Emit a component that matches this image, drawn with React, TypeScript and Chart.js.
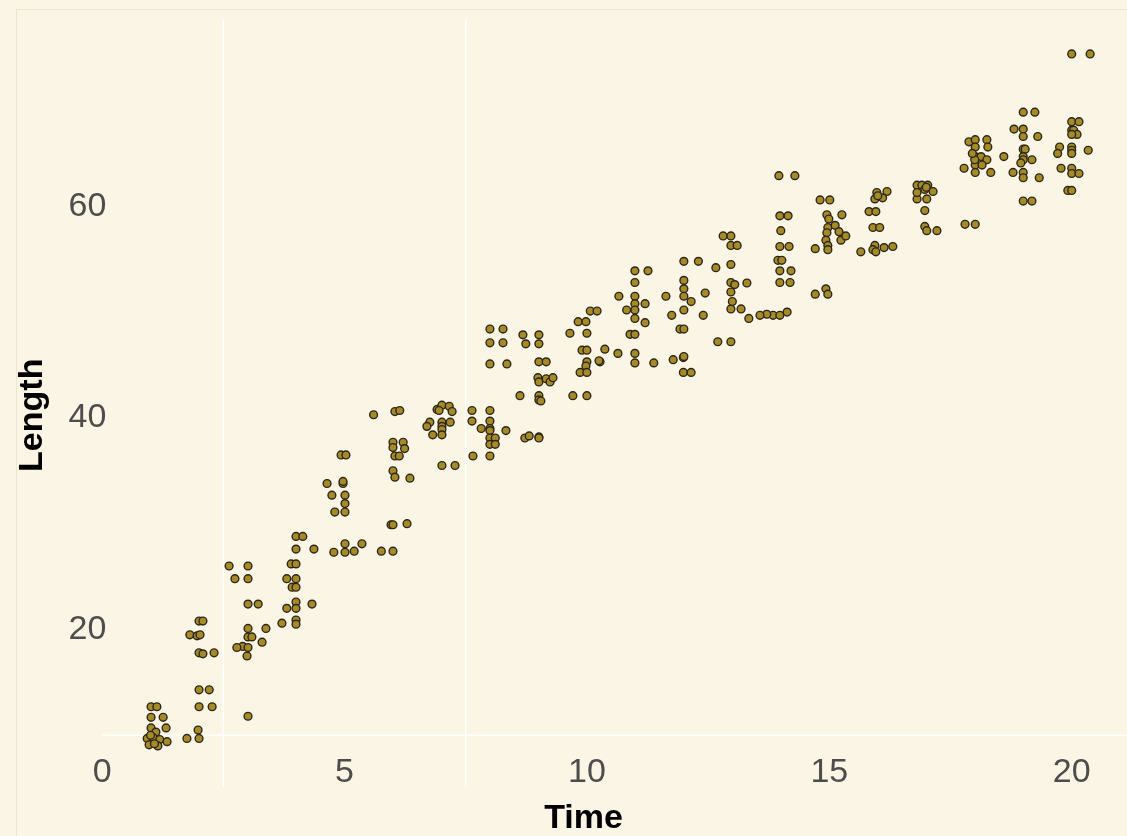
import { useEffect, useRef } from "react";
import { Chart, registerables } from "chart.js";

Chart.register(...registerables);

// Axis ticks and visible ranges
const X_TICKS = [0, 5, 10, 15, 20];
const Y_TICKS = [20, 40, 60];
const X_RANGE = [-0.868, 20.728];
const Y_RANGE = [5.113, 75.39];

// Minor guide lines drawn in white over the panel
const GRID_X = [2.5, 7.5];
const GRID_Y = [10];
const GRID_TOP = 77.6;

// Jittered time per observation, grouped by measurement time 1..20
const timeByGroup: number[][] = [
  [1.01, 1.13, 1.01, 1.26, 1.01, 1.11, 1.32, 0.93, 1.05, 1.19, 1.34, 0.97, 1.15, 1.0, 1.08],
  [1.81, 1.96, 2.02, 2.0, 2.08, 2.0, 2.08, 2.31, 2.0, 2.21, 2.0, 2.27, 1.75, 1.98, 2.0],
  [2.62, 3.01, 2.74, 3.01, 3.01, 3.22, 3.01, 3.38, 3.01, 3.09, 3.3, 2.9, 2.78, 3.01, 2.99, 3.01],
  [3.71, 3.81, 4.0, 4.0, 4.33, 4.0, 4.0, 3.9, 4.0, 3.81, 4.0, 3.92, 4.0, 4.0, 4.14, 4.0, 4.37],
  [4.64, 4.97, 4.97, 4.74, 5.01, 5.01, 4.8, 5.01, 5.01, 4.78, 5.01, 5.2, 5.36, 4.93, 5.03],
  [5.6, 6.04, 6.14, 6.0, 6.21, 6.0, 6.24, 6.04, 6.13, 6.0, 6.04, 6.35, 5.96, 6.0, 6.29, 5.76, 6.0],
  [6.91, 7.01, 7.16, 7.22, 6.76, 7.01, 7.18, 6.7, 7.01, 7.01, 6.82, 7.01, 7.01, 7.28, 6.95],
  [7.63, 8.0, 7.63, 8.0, 7.82, 8.0, 8.0, 8.33, 8.0, 8.11, 8.0, 8.11, 7.65, 8.0, 8.0, 8.27, 8.0, 8.27, 8.0, 8.35],
  [8.68, 9.01, 8.74, 9.01, 9.01, 9.16, 8.99, 9.01, 9.16, 9.24, 9.3, 8.62, 9.01, 9.01, 9.05, 8.72, 8.81, 9.01, 9.01],
  [9.65, 10.0, 9.9, 10.0, 10.37, 10.27, 10.25, 10.0, 9.98, 9.86, 10.0, 9.71, 10.0, 10.64, 9.82, 9.98, 10.07, 10.21],
  [10.99, 10.99, 11.38, 10.89, 10.99, 10.99, 11.26, 10.99, 10.66, 10.99, 10.99, 11.2, 10.82, 10.99, 10.99, 11.2],
  [12.0, 12.3, 12.0, 12.0, 11.63, 12.0, 12.15, 12.0, 11.75, 12.4, 11.92, 12.0, 11.78, 11.99, 12.0, 11.99, 12.15],
  [12.66, 12.81, 12.97, 12.97, 13.1, 12.97, 12.97, 13.3, 12.97, 12.97, 13.18, 12.7, 12.97, 13.34, 12.44, 13.0, 13.05],
  [13.96, 14.29, 13.98, 14.15, 14.0, 13.98, 14.17, 13.94, 14.02, 13.98, 14.21, 13.98, 14.19, 13.84, 13.98, 14.13, 13.71, 13.57],
  [14.81, 15.01, 14.95, 15.26, 14.99, 14.97, 15.12, 14.95, 15.2, 14.93, 14.97, 15.24, 14.97, 14.71, 14.71, 14.93, 14.97, 15.34],
  [15.98, 16.19, 15.94, 15.82, 15.96, 15.9, 16.04, 15.94, 15.9, 15.96, 16.13, 16.31, 15.65, 16.1, 16.0],
  [16.81, 16.91, 17.03, 16.97, 17.14, 16.81, 17.01, 16.97, 16.97, 17.01, 17.22, 16.81, 17.0],
  [17.88, 18.01, 18.25, 18.01, 18.27, 18.01, 18.13, 18.25, 17.78, 18.01, 18.15, 18.01, 18.33, 17.8, 18.01, 18.6, 18.0, 17.95],
  [19.0, 19.24, 18.81, 19.0, 19.0, 19.3, 19.0, 19.04, 19.18, 19.0, 19.0, 18.95, 18.79, 19.0, 19.0, 19.33, 19.0, 19.18],
  [20.0, 20.38, 20.0, 20.15, 20.0, 20.04, 20.11, 20.0, 19.75, 19.71, 20.0, 20.0, 20.0, 20.34, 19.78, 20.0, 20.0, 20.15, 19.92, 20.0],
];

// Measured length per observation, same order as timeByGroup
const lengthByGroup: number[][] = [
  [12.7, 12.7, 11.7, 11.7, 10.7, 10.3, 10.7, 9.7, 9.8, 9.6, 9.4, 9.1, 9.0, 10.0, 9.2],
  [19.5, 19.4, 19.5, 20.8, 20.8, 17.8, 17.7, 17.8, 14.3, 14.3, 12.7, 12.7, 9.7, 10.5, 9.7],
  [26.0, 26.0, 24.8, 24.8, 22.4, 22.4, 20.1, 20.1, 19.3, 19.3, 18.8, 18.4, 18.3, 18.3, 17.5, 11.8],
  [20.6, 22.0, 22.6, 22.0, 22.4, 20.9, 20.5, 26.2, 26.2, 24.8, 24.8, 24.0, 24.0, 28.8, 28.8, 27.6, 27.6],
  [33.8, 33.8, 34.0, 32.7, 32.7, 31.9, 31.1, 31.1, 28.1, 27.3, 27.3, 27.4, 28.1, 36.5, 36.5],
  [40.3, 40.6, 40.7, 37.7, 37.7, 37.2, 37.1, 36.4, 36.4, 35.0, 34.4, 34.3, 29.9, 29.9, 30.0, 27.4, 27.4],
  [40.8, 41.2, 41.1, 40.6, 39.6, 39.6, 39.6, 39.2, 39.2, 38.9, 38.4, 38.4, 35.5, 35.5, 40.7],
  [40.7, 40.7, 39.7, 39.7, 39.0, 39.0, 38.8, 38.8, 38.1, 38.1, 37.5, 37.5, 36.4, 36.4, 48.4, 48.4, 47.1, 47.1, 45.1, 45.1],
  [47.85, 47.85, 47.0, 47.0, 45.3, 45.3, 43.8, 43.4, 43.7, 43.4, 43.8, 42.1, 42.1, 41.7, 41.6, 38.1, 38.3, 38.2, 38.1],
  [48.0, 48.0, 46.4, 46.4, 46.5, 45.3, 45.4, 45.3, 44.9, 44.3, 44.3, 42.1, 42.1, 46.1, 49.1, 49.1, 50.1, 50.1],
  [46.1, 45.2, 45.2, 47.9, 47.9, 53.9, 53.9, 52.8, 51.5, 51.5, 50.8, 50.8, 50.2, 50.2, 49.4, 49.0],
  [54.8, 54.8, 53.0, 52.2, 51.5, 51.5, 51.0, 50.2, 49.7, 49.7, 48.4, 48.4, 45.5, 45.7, 45.8, 44.3, 44.3],
  [54.2, 57.2, 57.2, 56.3, 56.3, 54.5, 52.8, 52.75, 51.9, 50.3, 50.3, 47.2, 47.2, 49.4, 51.8, 51.0, 52.6],
  [62.9, 62.9, 59.1, 59.1, 57.7, 56.2, 56.2, 54.9, 54.9, 53.9, 53.9, 52.8, 52.8, 49.7, 49.7, 50.0, 49.8, 49.7],
  [60.6, 60.6, 59.2, 59.2, 58.8, 58.0, 58.2, 57.5, 57.6, 56.8, 56.3, 56.8, 55.9, 56.0, 51.7, 52.2, 51.7, 57.2],
  [61.3, 61.4, 60.7, 59.5, 59.5, 58.0, 58.0, 56.3, 55.9, 55.7, 56.1, 56.2, 55.7, 60.8, 61.0],
  [62.0, 62.0, 62.0, 61.6, 61.4, 60.7, 60.7, 59.6, 58.1, 57.7, 57.7, 61.3, 61.8],
  [66.1, 66.3, 66.3, 65.6, 65.6, 64.7, 64.7, 64.4, 63.6, 63.9, 63.9, 63.2, 63.2, 58.3, 58.3, 64.7, 64.4, 65.0],
  [68.9, 68.9, 67.3, 67.3, 66.6, 66.6, 65.4, 65.4, 64.4, 64.7, 64.4, 64.1, 63.2, 63.2, 62.7, 62.7, 60.5, 60.5],
  [74.4, 74.4, 68.0, 68.0, 67.2, 67.2, 66.8, 66.8, 65.6, 65.0, 65.6, 65.3, 65.0, 65.3, 63.6, 63.6, 63.1, 63.1, 61.5, 61.5],
];

const BACKGROUND = "#faf5e4";
const FRAME = "#ebe4cf";
const POINT_FILL = "#a68a28";
const POINT_EDGE = "#2b2718";
const TICK_COLOR = "#4d4d4d";
const FONT = "'Liberation Sans', Arial, Helvetica, sans-serif";

const points = timeByGroup.flatMap((times, g) =>
  times.map((t, i) => ({ x: t, y: lengthByGroup[g][i] }))
);

const backdrop = {
  id: "backdrop",
  beforeDraw(chart: any) {
    const { ctx, width, height, chartArea, scales } = chart;
    const xs = scales.x;
    const ys = scales.y;
    ctx.save();
    ctx.fillStyle = BACKGROUND;
    ctx.fillRect(0, 0, width, height);
    ctx.strokeStyle = FRAME;
    ctx.lineWidth = 1;
    ctx.strokeRect(16.5, 9.5, width + 20, height + 20);

    ctx.strokeStyle = "rgba(255,255,255,0.95)";
    ctx.lineWidth = 1.4;
    ctx.beginPath();
    for (const gx of GRID_X) {
      const px = xs.getPixelForValue(gx);
      ctx.moveTo(px, ys.getPixelForValue(GRID_TOP));
      ctx.lineTo(px, chartArea.bottom);
    }
    for (const gy of GRID_Y) {
      const py = ys.getPixelForValue(gy);
      ctx.moveTo(xs.getPixelForValue(0), py);
      ctx.lineTo(width, py);
    }
    ctx.stroke();
    ctx.restore();
  },
};

export default function App() {
  const canvasRef = useRef<HTMLCanvasElement | null>(null);

  useEffect(() => {
    const canvas = canvasRef.current;
    if (!canvas) return;
    Chart.defaults.font.family = FONT;

    const chart = new Chart(canvas, {
      type: "scatter",
      data: {
        datasets: [
          {
            data: points,
            backgroundColor: POINT_FILL,
            borderColor: POINT_EDGE,
            borderWidth: 1.4,
            pointRadius: 3.9,
            pointHoverRadius: 3.9,
            clip: false,
          } as any,
        ],
      },
      options: {
        responsive: false,
        animation: false,
        events: [],
        layout: { padding: { top: 43.5, right: 20, left: 0, bottom: 0 } },
        plugins: {
          legend: { display: false },
          tooltip: { enabled: false },
        },
        scales: {
          x: {
            type: "linear",
            min: X_RANGE[0],
            max: X_RANGE[1],
            grid: { display: false },
            border: { display: false },
            afterBuildTicks: (scale: any) => {
              scale.ticks = X_TICKS.map((value) => ({ value }));
            },
            afterFit: (scale: any) => {
              scale.height = 49;
            },
            ticks: {
              mirror: true,
              padding: -5.9,
              color: TICK_COLOR,
              font: { size: 34 },
              maxRotation: 0,
              autoSkip: false,
            },
            title: {
              display: true,
              text: "Time",
              color: "#000000",
              font: { size: 34, weight: "bold", lineHeight: 1 },
              padding: 0,
            },
          },
          y: {
            type: "linear",
            min: Y_RANGE[0],
            max: Y_RANGE[1],
            grid: { display: false },
            border: { display: false },
            afterBuildTicks: (scale: any) => {
              scale.ticks = Y_TICKS.map((value) => ({ value }));
            },
            afterFit: (scale: any) => {
              scale.width = 60;
            },
            ticks: {
              mirror: true,
              padding: 8.5,
              color: TICK_COLOR,
              font: { size: 34 },
            },
            title: {
              display: true,
              text: "Length",
              color: "#000000",
              font: { size: 34, weight: "bold", lineHeight: 1 },
              padding: { top: 16, bottom: 0 },
            },
          },
        },
      } as any,
      plugins: [backdrop],
    });

    return () => chart.destroy();
  }, []);

  return (
    <div
      style={{
        position: "fixed",
        left: 0,
        top: 0,
        width: 1127,
        height: 836,
        background: BACKGROUND,
      }}
    >
      <canvas ref={canvasRef} width={1127} height={836} style={{ display: "block" }} />
    </div>
  );
}
